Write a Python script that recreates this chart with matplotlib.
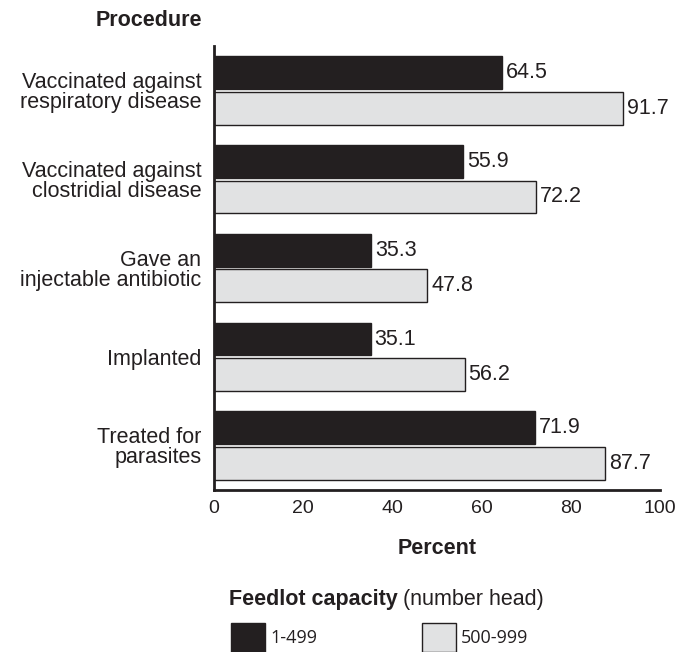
import matplotlib
matplotlib.use("Agg")
import matplotlib.pyplot as plt
import numpy as np
from matplotlib.patches import Rectangle

categories = ["Vaccinated against\nrespiratory disease",
              "Vaccinated against\nclostridial disease",
              "Gave an\ninjectable antibiotic",
              "Implanted",
              "Treated for\nparasites"]
small = [64.5, 55.9, 35.3, 35.1, 71.9]
large = [91.7, 72.2, 47.8, 56.2, 87.7]
series_names = ["1-499", "500-999"]
xticks = [0, 20, 40, 60, 80, 100]

plt.rcParams['font.family'] = ['Liberation Sans', 'DejaVu Sans']

fig = plt.figure(figsize=(6.8, 6.52), dpi=100)
ax = fig.add_axes([214/680, 1-490/652, 446/680, 444/652])

dark = "#231f20"
light = "#e1e2e3"
y = np.arange(len(categories))
h = 0.37
off = 0.2
ax.barh(y - off, small, height=h, color=dark, edgecolor=dark, linewidth=1)
ax.barh(y + off, large, height=h, color=light, edgecolor=dark, linewidth=1)
for yi, v in zip(y, small):
    ax.text(v + 0.9, yi - off, f"{v:.1f}", va="center", ha="left", fontsize=15.5, color=dark)
for yi, v in zip(y, large):
    ax.text(v + 0.9, yi + off, f"{v:.1f}", va="center", ha="left", fontsize=15.5, color=dark)

ax.set_xlim(0, 100)
ax.set_ylim(4.5, -0.5)
ax.set_yticks(y)
ax.set_yticklabels(categories, fontsize=15.5, ha="right", color=dark, linespacing=0.95)
ax.set_xticks(xticks)
ax.set_xticklabels([str(t) for t in xticks], fontsize=14, color=dark)
ax.tick_params(axis="y", length=0, pad=9)
ax.tick_params(axis="x", length=0, pad=7)
for s in ["top", "right"]:
    ax.spines[s].set_visible(False)
for s in ["left", "bottom"]:
    ax.spines[s].set_linewidth(2)
    ax.spines[s].set_color(dark)

fig.text(202/680, 1-20/652, "Procedure", ha="right", va="center", fontsize=15.5, fontweight="bold", color=dark)
fig.text(437/680, 1-548/652, "Percent", ha="center", va="center", fontsize=15.5, fontweight="bold", color=dark)

t1 = fig.text(229/680, 1-600/652, "Feedlot capacity", ha="left", va="center", fontsize=15.5, fontweight="bold", color=dark)
fig.canvas.draw()
bb = t1.get_window_extent()
fig.text((bb.x1 + 5)/680, 1-600/652, "(number head)", ha="left", va="center", fontsize=15.5, color=dark)

for x0, col, lab in [(231, dark, series_names[0]), (422, light, series_names[1])]:
    fig.patches.append(Rectangle((x0/680, 0), 34/680, 29/652, transform=fig.transFigure,
                                 facecolor=col, edgecolor=dark, linewidth=1))
    fig.text((x0 + 39)/680, 1-638/652, lab, ha="left", va="center", fontsize=13,
             family=['Open Sans', 'DejaVu Sans'], color=dark)

fig.savefig("out.png", dpi=100)
